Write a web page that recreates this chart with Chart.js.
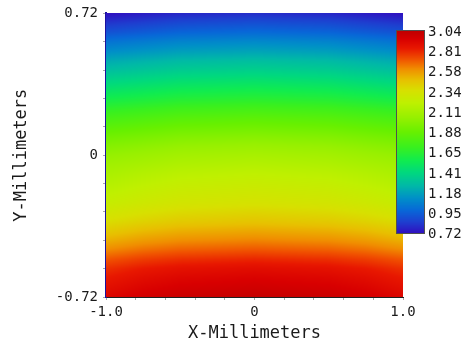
<!DOCTYPE html>
<html><head><meta charset="utf-8">
<script src="https://cdn.jsdelivr.net/npm/chart.js@4.4.1/dist/chart.umd.min.js"></script>
<style>html,body{margin:0;padding:0;background:#fff;}#wrap{width:466px;height:349px;position:relative}</style>
</head><body><div id="wrap"><canvas id="c" width="466" height="349"></canvas></div>
<script>
// Grid node positions (mm)
const xValues = [-1, -0.75, -0.5, -0.25, 0, 0.25, 0.5, 0.75, 1];
const yValues = [0.72,0.672,0.624,0.576,0.528,0.48,0.432,0.384,0.336,0.288,0.24,0.192,0.144,0.096,0.048,0,
  -0.048,-0.096,-0.144,-0.192,-0.24,-0.288,-0.336,-0.384,-0.432,-0.48,-0.528,-0.576,-0.624,-0.672,-0.72];

// Values along y (top to bottom) for each x column
const zAtXneg100 = [0.72,0.82,0.91,1.02,1.11,1.21,1.29,1.38,1.47,1.56,1.66,1.75,1.83,1.91,1.98,2.04,2.09,2.13,2.17,2.21,2.25,2.31,2.37,2.44,2.52,2.61,2.71,2.79,2.84,2.88,2.92];
const zAtXneg075 = [0.75,0.85,0.94,1.05,1.14,1.24,1.32,1.41,1.50,1.59,1.69,1.78,1.86,1.94,2.01,2.07,2.12,2.17,2.21,2.25,2.29,2.35,2.41,2.49,2.57,2.66,2.76,2.84,2.89,2.93,2.97];
const zAtXneg050 = [0.78,0.88,0.97,1.08,1.17,1.27,1.35,1.44,1.53,1.62,1.72,1.81,1.89,1.97,2.04,2.10,2.15,2.20,2.24,2.28,2.32,2.38,2.44,2.52,2.60,2.69,2.79,2.87,2.92,2.96,3.00];
const zAtXneg025 = [0.79,0.89,0.98,1.09,1.18,1.28,1.36,1.45,1.54,1.63,1.73,1.82,1.90,1.98,2.05,2.11,2.16,2.21,2.25,2.29,2.33,2.39,2.45,2.53,2.61,2.70,2.80,2.88,2.93,2.97,3.01];
const zAtX000    = [0.80,0.90,0.99,1.10,1.19,1.29,1.37,1.46,1.55,1.64,1.74,1.83,1.91,1.99,2.06,2.12,2.17,2.22,2.26,2.30,2.34,2.40,2.46,2.54,2.62,2.71,2.81,2.89,2.94,2.98,3.02];
const zAtXpos025 = [0.79,0.89,0.98,1.09,1.18,1.28,1.36,1.45,1.54,1.63,1.73,1.82,1.90,1.98,2.05,2.11,2.16,2.21,2.25,2.29,2.33,2.39,2.45,2.53,2.61,2.70,2.80,2.88,2.93,2.97,3.01];
const zAtXpos050 = [0.78,0.88,0.97,1.08,1.17,1.27,1.35,1.44,1.53,1.62,1.72,1.81,1.89,1.97,2.04,2.10,2.15,2.20,2.24,2.28,2.32,2.38,2.44,2.52,2.60,2.69,2.79,2.87,2.92,2.96,3.00];
const zAtXpos075 = [0.75,0.85,0.94,1.05,1.14,1.24,1.32,1.41,1.50,1.59,1.69,1.78,1.86,1.94,2.01,2.07,2.12,2.17,2.21,2.25,2.29,2.35,2.41,2.49,2.57,2.66,2.76,2.84,2.89,2.93,2.97];
const zAtXpos100 = [0.72,0.82,0.91,1.02,1.11,1.21,1.29,1.38,1.47,1.56,1.66,1.75,1.83,1.91,1.98,2.04,2.09,2.13,2.17,2.21,2.25,2.31,2.37,2.44,2.52,2.61,2.71,2.79,2.84,2.88,2.92];

// Axis ticks
const xTickValues = [-1,-0.8,-0.6,-0.4,-0.2,0,0.2,0.4,0.6,0.8,1];
const xTickLabels = ['-1.0','','','','','0','','','','','1.0'];
const yTickValues = [-0.72,-0.576,-0.432,-0.288,-0.144,0,0.144,0.288,0.432,0.576,0.72];
const yTickLabels = ['-0.72','','','','','0','','','','','0.72'];

// Colour bar
const cbarTicks = [3.04,2.81,2.58,2.34,2.11,1.88,1.65,1.41,1.18,0.95,0.72];
const cbarMin = 0.72, cbarMax = 3.04;

// Colour map stops
const cmapValues = [0.72,0.85,0.98,1.12,1.26,1.41,1.55,1.70,1.88,2.05,2.22,2.36,2.48,2.60,2.72,2.84,2.95,3.04];
const cmapColors = ['#3010c0','#1e40d0','#0868d8','#0090c8','#00b8a8','#00d880','#10ec50','#38f020','#68f000','#98f000','#c0f000','#d8e000','#e8c000','#f09000','#f05000','#e81800','#d80000','#c00000'];

const columns = [zAtXneg100,zAtXneg075,zAtXneg050,zAtXneg025,zAtX000,zAtXpos025,zAtXpos050,zAtXpos075,zAtXpos100];
const points = [];
columns.forEach((col, i) => col.forEach((z, j) => points.push({x: xValues[i], y: yValues[j], z})));

const cmapRGB = cmapColors.map(h => [parseInt(h.slice(1,3),16), parseInt(h.slice(3,5),16), parseInt(h.slice(5,7),16)]);
function colorFor(v) {
  if (v <= cmapValues[0]) return cmapRGB[0];
  const n = cmapValues.length;
  if (v >= cmapValues[n-1]) return cmapRGB[n-1];
  let k = 0; while (v > cmapValues[k+1]) k++;
  const t = (v - cmapValues[k]) / (cmapValues[k+1] - cmapValues[k]);
  const a = cmapRGB[k], b = cmapRGB[k+1];
  return [a[0]+(b[0]-a[0])*t, a[1]+(b[1]-a[1])*t, a[2]+(b[2]-a[2])*t];
}
function fracIndex(arr, v) {
  const asc = arr[arr.length-1] > arr[0];
  for (let k = 0; k < arr.length-1; k++) {
    const a = arr[k], b = arr[k+1];
    if ((asc && v >= a && v <= b) || (!asc && v <= a && v >= b)) return k + (v - a) / (b - a);
  }
  return (asc ? v < arr[0] : v > arr[0]) ? 0 : arr.length-1;
}

const heatmapPlugin = {
  id: 'heatmap',
  beforeDatasetsDraw(chart) {
    const {ctx, chartArea: a, scales: {x, y}} = chart;
    const w = Math.round(a.right - a.left), h = Math.round(a.bottom - a.top);
    const off = document.createElement('canvas'); off.width = w; off.height = h;
    const octx = off.getContext('2d');
    const img = octx.createImageData(w, h);
    const fx = [], fy = [];
    for (let i = 0; i < w; i++) fx.push(fracIndex(xValues, x.getValueForPixel(a.left + i + 0.5)));
    for (let j = 0; j < h; j++) fy.push(fracIndex(yValues, y.getValueForPixel(a.top + j + 0.5)));
    for (let j = 0; j < h; j++) {
      const r0 = Math.min(Math.floor(fy[j]), yValues.length-2), ty = fy[j] - r0;
      for (let i = 0; i < w; i++) {
        const c0 = Math.min(Math.floor(fx[i]), xValues.length-2), tx = fx[i] - c0;
        const v = (columns[c0][r0]*(1-tx) + columns[c0+1][r0]*tx)*(1-ty) + (columns[c0][r0+1]*(1-tx) + columns[c0+1][r0+1]*tx)*ty;
        const c = colorFor(v);
        const p = (j*w + i)*4;
        img.data[p] = c[0]; img.data[p+1] = c[1]; img.data[p+2] = c[2]; img.data[p+3] = 255;
      }
    }
    octx.putImageData(img, 0, 0);
    ctx.drawImage(off, a.left, a.top);
  },
  afterDraw(chart) {
    const ctx = chart.ctx;
    const bx = 397, bw = 27, by = 31, bh = 202;
    for (let j = 0; j < bh; j++) {
      const v = cbarMax - (j + 0.5) / bh * (cbarMax - cbarMin);
      const c = colorFor(v);
      ctx.fillStyle = `rgb(${c[0]|0},${c[1]|0},${c[2]|0})`;
      ctx.fillRect(bx, by + j, bw, 1);
    }
    ctx.strokeStyle = '#505050'; ctx.lineWidth = 1;
    ctx.strokeRect(bx - 0.5, by - 0.5, bw + 1, bh + 1);
    ctx.fillStyle = '#1a1a1a';
    ctx.font = '14px "DejaVu Sans Mono"';
    ctx.textAlign = 'left'; ctx.textBaseline = 'middle';
    cbarTicks.forEach(t => {
      const py = by + (cbarMax - t) / (cbarMax - cbarMin) * bh + 1;
      ctx.fillText(t.toFixed(2), 428, py);
    });
  }
};

const monoFont = {family: '"DejaVu Sans Mono"', size: 14};
new Chart(document.getElementById('c'), {
  type: 'scatter',
  data: {datasets: [{data: points, pointRadius: 0, pointHoverRadius: 0, showLine: false}]},
  options: {
    responsive: false, animation: false, devicePixelRatio: 1,
    layout: {padding: {left: 0, right: 63, top: 10, bottom: 0}},
    plugins: {legend: {display: false}, tooltip: {enabled: false}},
    events: [],
    scales: {
      x: {
        type: 'linear', position: 'bottom', min: -1, max: 1,
        afterBuildTicks: s => { s.ticks = xTickValues.map(v => ({value: v})); },
        afterFit: s => { s.height = 52; },
        ticks: {autoSkip: false, maxRotation: 0, padding: 4, color: '#1a1a1a', font: monoFont,
          callback: (v, i) => xTickLabels[i]},
        grid: {drawOnChartArea: false, drawTicks: true, tickLength: 3, tickColor: '#a8a8a8'},
        border: {display: true, color: '#202020', width: 1},
        title: {display: true, text: 'X-Millimeters', color: '#1a1a1a',
          font: {family: '"DejaVu Sans Mono"', size: 17}, padding: {top: 0, bottom: 5}}
      },
      y: {
        type: 'linear', position: 'left', min: -0.72, max: 0.72,
        afterBuildTicks: s => { s.ticks = yTickValues.map(v => ({value: v})); },
        afterFit: s => { s.width = 106; },
        ticks: {autoSkip: false, padding: 5, color: '#1a1a1a', font: monoFont,
          callback: (v, i) => yTickLabels[i]},
        grid: {drawOnChartArea: false, drawTicks: true, tickLength: 3, tickColor: '#a8a8a8'},
        border: {display: true, color: '#1a10a0', width: 2},
        title: {display: true, text: 'Y-Millimeters', color: '#1a1a1a',
          font: {family: '"DejaVu Sans Mono"', size: 17}, padding: {top: 11, bottom: 0}}
      }
    }
  },
  plugins: [heatmapPlugin]
});
</script></body></html>
